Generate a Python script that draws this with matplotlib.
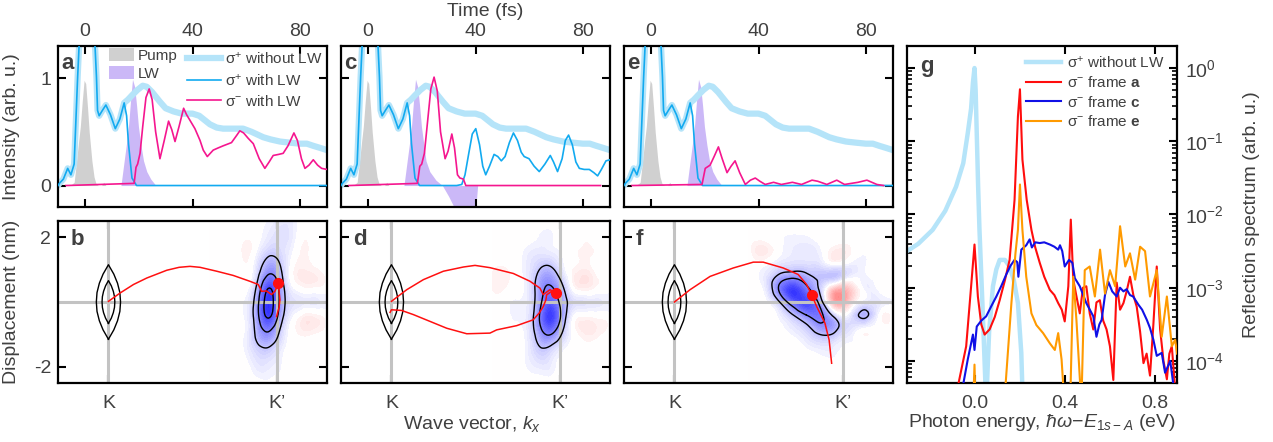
import numpy as np
import matplotlib.pyplot as plt
import matplotlib.tri as mtri
from matplotlib.patches import Patch
from matplotlib.lines import Line2D
from matplotlib.ticker import LogLocator, NullFormatter

plt.rcParams['font.family'] = ['Liberation Sans', 'DejaVu Sans']
plt.rcParams['mathtext.fontset'] = 'custom'
plt.rcParams['mathtext.rm'] = 'Liberation Sans'
plt.rcParams['mathtext.it'] = 'Liberation Sans:italic'
plt.rcParams['mathtext.bf'] = 'Liberation Sans:bold'
plt.rcParams['axes.unicode_minus'] = False
plt.rcParams['contour.negative_linestyle'] = 'solid'

TXT = '#404040'
C_FREE = '#b5e4f9'
C_SP = '#12aaf0'
C_SM = '#f5168f'
C_PUMP = '#d0d0d0'
C_LW = '#cbb8f7'
C_GRID = '#c3c3c3'

# ---------------- time traces (fs, arb. u.) ----------------
t_pump = [-10, -9, -8, -5, -4, -3.1, -2.3, -1.7, -1, -0.3, 0.3, 1, 1.6, 2.6, 3.4, 4.1, 5, 6.2, 7, 7.8, 9, 10]
i_pump = [0, 0.02, 0.0, 0.01, 0.03, 0.23, 0.42, 0.55, 0.78, 0.98, 0.95, 0.72, 0.5, 0.23, 0.08, 0.02, 0.0, 0.0, 0.03, 0.0, 0.0, 0]

t_lw = [10, 13.4, 14.6, 15.5, 16.2, 17, 17.7, 18.5, 19.2, 19.9, 20.8, 21.8, 23, 24.5, 26.4, 28]
i_lw = [0, 0.0, 0.23, 0.4, 0.55, 0.8, 0.99, 0.92, 0.75, 0.55, 0.38, 0.23, 0.13, 0.06, 0.0, 0]

# LW field for frame c carries a second, inverted lobe
t_lw_c = [10, 13.4, 14.6, 15.5, 16.2, 17, 17.7, 18.5, 19.2, 19.9, 20.8, 21.6, 23, 25.3, 27.7,
          30, 32, 35, 38, 39.5, 40.3, 40.8, 45]
i_lw_c = [0, 0.0, 0.23, 0.4, 0.55, 0.8, 0.99, 0.92, 0.75, 0.55, 0.38, 0.23, 0.13, 0.05, 0.0,
          -0.1, -0.2, -0.4, -0.45, -0.35, -0.15, 0.0, 0]

t_free = [-10, -9.5, -8, -6.4, -5.2, -4, -2.7, -2.2, -1, 0.5, 2, 3.8, 4.3, 4.7, 5.3, 6.5, 7.8, 9.5,
          11.3, 13, 14.6, 16, 17.5, 19.5, 21.5, 23, 25, 27.9, 30, 33, 36, 40, 42.5, 44.5, 46.5, 49,
          51.4, 55, 58.8, 62, 66.3, 69, 72.5, 76, 79.9, 82.5, 84.9, 87.5, 90]
i_free = [0, 0.02, 0.06, 0.16, 0.10, 0.20, 1.01, 1.28, 2.0, 2.3, 2.0, 1.28, 1.01, 0.70, 0.65, 0.70,
          0.75, 0.66, 0.53, 0.62, 0.77, 0.80, 0.84, 0.89, 0.93, 0.92, 0.87, 0.78, 0.72, 0.69, 0.67,
          0.67, 0.65, 0.61, 0.57, 0.54, 0.53, 0.53, 0.53, 0.50, 0.45, 0.43, 0.41, 0.40, 0.39, 0.39,
          0.37, 0.35, 0.33]

# sigma+ with LW, frames a and e
t_sp_ae = [-10, -9.5, -8, -6.4, -5.2, -4, -2.7, -2.2, -1, 0.5, 2, 3.8, 4.3, 4.7, 5.3, 6.5, 7.8, 9.5,
           11.3, 13, 14.6, 15.5, 16.2, 17.5, 19.2, 90]
i_sp_ae = [0, 0.02, 0.06, 0.16, 0.10, 0.20, 1.01, 1.28, 2.0, 2.3, 2.0, 1.28, 1.01, 0.70, 0.65, 0.70,
           0.75, 0.66, 0.53, 0.62, 0.77, 0.65, 0.39, 0.07, 0.0, 0.0]

# sigma+ with LW, frame c
t_sp_c = [-10, -9.5, -8, -6.4, -5.2, -4, -2.7, -2.2, -1, 0.5, 2, 3.8, 4.3, 4.7, 5.3, 6.5, 7.8, 9.5,
          11.3, 13, 14.6, 15.5, 16.2, 17.5, 19.2, 33, 34.9, 36.1, 37.5, 38.8, 40.1, 41.5, 42.7,
          43.8, 45.2, 46.9, 48.3, 49.6, 51, 52.6, 54.1, 55.6, 57, 58.1, 59.9, 61.8, 63.7, 65.8,
          67.8, 69, 70.5, 72.2, 73.4, 74.6, 76, 77.3, 78.6, 80.4, 82.3, 84, 85.4, 86.8, 88.5, 90]
i_sp_c = [0, 0.02, 0.06, 0.16, 0.10, 0.20, 1.01, 1.28, 2.0, 2.3, 2.0, 1.28, 1.01, 0.70, 0.65, 0.70,
          0.75, 0.66, 0.53, 0.62, 0.77, 0.65, 0.39, 0.07, 0.0, 0.0, 0.01, 0.10, 0.30, 0.48, 0.53,
          0.38, 0.18, 0.10, 0.18, 0.29, 0.27, 0.23, 0.27, 0.40, 0.49, 0.42, 0.31, 0.27, 0.25, 0.18,
          0.13, 0.20, 0.28, 0.22, 0.13, 0.25, 0.42, 0.47, 0.38, 0.22, 0.16, 0.15, 0.15, 0.12, 0.09,
          0.15, 0.23, 0.24]

# sigma- with LW
t_sm_a = [-7, 18.3, 19.0, 19.6, 20.5, 21.5, 22.7, 23.9, 25, 26.3, 27.9, 29.5, 31.1, 32.3, 33.5, 35,
          36.7, 37.8, 39, 40.9, 42.8, 44, 45.5, 47.7, 49.5, 51.4, 54.5, 56.5, 57.6, 59, 60.7, 62.6,
          64.8, 66.9, 68.5, 70, 72, 73.7, 75.5, 77.7, 79, 80.5, 81.8, 83.3, 84.9, 86.5, 88, 90]
i_sm_a = [0, 0.02, 0.17, 0.2, 0.3, 0.55, 0.82, 0.90, 0.8, 0.5, 0.25, 0.42, 0.60, 0.52, 0.41, 0.55,
          0.72, 0.66, 0.61, 0.53, 0.42, 0.33, 0.27, 0.33, 0.35, 0.37, 0.40, 0.47, 0.51, 0.49, 0.44,
          0.39, 0.25, 0.16, 0.22, 0.28, 0.29, 0.30, 0.37, 0.49, 0.42, 0.25, 0.16, 0.19, 0.24, 0.19,
          0.16, 0.15]

t_sm_c = [-7, 18.4, 19.3, 20, 21, 22.2, 23.4, 24.6, 25.8, 27, 28.7, 29.8, 31.2, 32.2, 33.3, 34.2,
          35.5, 36.4, 86.5]
i_sm_c = [0, 0.02, 0.18, 0.2, 0.3, 0.6, 0.9, 1.01, 0.88, 0.5, 0.25, 0.32, 0.48, 0.35, 0.10, 0.07,
          0.06, 0.0, 0.0]

t_sm_e = [-7, 19, 20.2, 22, 23.5, 25.1, 26.5, 28.3, 29.8, 31.3, 33, 35.1, 37, 38.8, 40.5, 42.5, 45.6,
          48.5, 52.6, 56, 59.9, 62, 65.4, 69.1, 72, 77, 80.3, 84, 86.5]
i_sm_e = [0, 0.01, 0.16, 0.19, 0.27, 0.36, 0.25, 0.12, 0.18, 0.23, 0.12, 0.01, 0.05, 0.07, 0.04,
          0.01, 0.03, 0.01, 0.03, 0.01, 0.05, 0.04, 0.01, 0.05, 0.01, 0.03, 0.05, 0.01, 0.0]

# ---------------- k-space frames ----------------
lens_y_out = [-1.15, -0.86, -0.58, -0.29, 0.0, 0.29, 0.58, 0.86, 1.15]
lens_w_out = [0.0, 0.032, 0.054, 0.068, 0.072, 0.068, 0.054, 0.032, 0.0]
lens_y_in = [-0.66, -0.5, -0.33, -0.165, 0.0, 0.165, 0.33, 0.5, 0.66]
lens_w_in = [0.0, 0.017, 0.029, 0.036, 0.038, 0.036, 0.029, 0.017, 0.0]

k_map = [0.60, 0.67, 0.74, 0.81, 0.88, 0.95, 1.02, 1.09, 1.16, 1.23, 1.30]
y_map = [2.5, 2.0, 1.5, 1.0, 0.5, 0.0, -0.5, -1.0, -1.5, -2.0, -2.5]
field_b = [
    [0, 0, 0, 0, 0, -0.05, -0.1, -0.1, 0, 0, 0],
    [0, 0, 0, 0.03, 0, -0.1, -0.15, -0.1, 0.03, 0, 0],
    [0, 0, 0, 0.05, -0.05, -0.25, -0.2, -0.05, 0.05, 0, 0],
    [0, 0, 0, 0.03, -0.15, -0.5, -0.35, 0, 0.08, 0.05, 0],
    [0, 0, 0, 0, -0.3, -0.85, -0.5, -0.05, 0.05, 0.05, 0],
    [0, 0, 0, -0.05, -0.45, -1.0, -0.55, -0.15, -0.1, -0.1, -0.08],
    [0, 0, 0, -0.05, -0.45, -0.9, -0.45, -0.05, 0.08, 0.08, 0],
    [0, 0, 0, -0.05, -0.35, -0.55, -0.25, 0, 0.05, 0.03, 0],
    [0, 0, 0.03, -0.05, -0.2, -0.25, -0.1, 0, 0, 0, 0],
    [0, 0, 0, 0, -0.1, -0.1, -0.05, 0, 0, 0, 0],
    [0, 0, 0, 0, 0, -0.03, 0, 0, 0, 0, 0],
]
field_d = [
    [0, 0, 0, 0, 0, 0, 0, 0, 0, 0, 0],
    [0, 0, 0, 0, -0.05, -0.05, 0, 0, 0.03, 0, 0],
    [0, 0, 0, -0.08, -0.12, -0.1, -0.03, 0.03, 0.05, 0.03, 0],
    [0.03, 0.05, 0, -0.1, -0.3, -0.35, -0.1, 0.05, 0.08, 0, 0],
    [0.05, 0.05, 0, -0.1, -0.45, -0.6, -0.3, 0.05, 0.1, 0.03, 0],
    [0, 0, -0.05, -0.1, -0.5, -0.8, -0.45, -0.15, -0.12, -0.1, -0.1],
    [0, 0, -0.05, -0.12, -0.6, -0.95, -0.45, 0, 0.05, 0.03, 0],
    [0, 0, 0, -0.1, -0.45, -0.6, -0.25, 0, 0.08, 0.05, 0],
    [0, 0, 0, -0.08, -0.25, -0.2, -0.05, 0, 0, 0, 0],
    [0, 0, 0, -0.05, -0.1, -0.08, 0, 0, 0, 0, 0],
    [0, 0, 0, 0, 0, 0, 0, 0, 0, 0, 0],
]
k_map_f = [0.44, 0.526, 0.612, 0.698, 0.784, 0.87, 0.956, 1.042, 1.128, 1.214, 1.30]
y_map_f = [2.4, 2.0, 1.6, 1.2, 0.8, 0.4, 0.0, -0.4, -0.8, -1.2, -1.6, -2.0, -2.4]
field_f = [
    [0, 0, 0, 0, 0, 0, 0, 0, 0, 0, 0],
    [0, 0, -0.03, -0.05, -0.05, 0, 0, 0, 0, 0, 0],
    [0, 0.1, 0, -0.08, -0.1, -0.05, 0.08, 0.05, -0.03, 0, 0],
    [0, 0, -0.1, -0.15, -0.15, -0.12, 0, -0.05, -0.05, 0, 0],
    [0, -0.08, -0.35, -0.5, -0.4, -0.3, -0.3, -0.1, -0.05, 0, 0],
    [0, -0.05, -0.55, -0.95, -0.7, -0.25, 0.3, 0.25, -0.05, -0.03, 0],
    [0, 0, -0.25, -0.75, -0.9, -0.45, 0.4, 0.2, -0.1, -0.1, -0.05],
    [0, 0, -0.05, -0.3, -0.6, -0.65, -0.2, -0.1, -0.38, -0.05, 0],
    [0, 0, 0, -0.1, -0.25, -0.5, -0.4, -0.15, -0.05, 0, 0],
    [0, 0, 0.03, 0, -0.1, -0.2, -0.15, -0.05, 0, 0, 0],
    [0, 0, 0, 0.03, 0, -0.05, -0.05, 0, 0, 0, 0],
    [0, 0, 0, 0, 0.03, 0, 0, 0, 0, 0, 0],
    [0, 0, 0, 0, 0, 0, 0, 0, 0, 0, 0],
]

# electron trajectories (k, displacement in nm) and current position
traj_b = [([0.0, 0.07, 0.149, 0.228, 0.347, 0.42, 0.485, 0.545, 0.644, 0.742, 0.841, 0.891, 0.911,
            0.94, 0.97, 0.99, 1.01, 1.02, 1.015, 1.0],
           [0.02, 0.28, 0.54, 0.74, 0.98, 1.07, 1.10, 1.07, 0.95, 0.82, 0.64, 0.54, 0.33, 0.34,
            0.23, 0.33, 0.55, 0.07, -0.16, -0.45])]
dot_b = (1.01, 0.6)
traj_d = [([0.0, 0.091, 0.19, 0.309, 0.428, 0.497, 0.586, 0.725, 0.824, 0.883, 0.903, 0.943, 0.978],
           [0.02, 0.38, 0.69, 0.95, 1.08, 1.13, 1.06, 0.88, 0.64, 0.43, 0.23, 0.38, 0.28]),
          ([-0.008, 0.0, 0.06, 0.131, 0.23, 0.329, 0.448, 0.586, 0.626, 0.745, 0.843, 0.879, 0.903,
            0.919, 0.923, 0.953, 0.978],
           [-0.32, -0.24, -0.26, -0.39, -0.60, -0.81, -0.98, -0.96, -0.86, -0.73, -0.55, -0.34,
            -0.14, 0.07, 0.22, 0.33, 0.28])]
dot_d = (0.978, 0.28)
traj_f = [([0.0, 0.093, 0.212, 0.35, 0.469, 0.528, 0.647, 0.736, 0.786, 0.816, 0.846, 0.895, 0.92,
            0.935],
           [0.0, 0.38, 0.79, 1.05, 1.23, 1.23, 1.05, 0.85, 0.54, 0.23, -0.14, -0.65, -1.17, -1.89])]
dot_f = (0.816, 0.23)

# ---------------- reflection spectra (log10 of arb. u.) ----------------
e_free = [-0.30, -0.25, -0.186, -0.13, -0.082, -0.05, -0.03, -0.015, -0.007, 0.0, 0.005, 0.01, 0.016,
          0.022, 0.035, 0.052, 0.065, 0.082, 0.097, 0.112, 0.135, 0.156, 0.175, 0.193, 0.208, 0.215,
          0.25, 0.9]
lg_free = [-2.5, -2.4, -2.21, -1.95, -1.62, -1.3, -0.89, -0.55, -0.2, 0.0, -0.3, -0.89, -1.6, -2.2,
           -3.2, -4.6, -3.6, -2.98, -2.75, -2.62, -2.62, -2.71, -2.9, -3.21, -3.89, -4.6, -6, -6]

e_a = [-0.30, -0.074, -0.037, -0.015, 0.0, 0.015, 0.03, 0.045, 0.067, 0.09, 0.112, 0.135, 0.156,
       0.178, 0.193, 0.202, 0.213, 0.232, 0.253, 0.27, 0.29, 0.31, 0.335, 0.355, 0.372, 0.388, 0.401,
       0.417, 0.428, 0.439, 0.452, 0.468, 0.482, 0.497, 0.512, 0.528, 0.542, 0.557, 0.572, 0.587,
       0.602, 0.617, 0.632, 0.647, 0.662, 0.676, 0.691, 0.706, 0.721, 0.736, 0.751, 0.765, 0.78,
       0.795, 0.81, 0.825, 0.84, 0.855, 0.866, 0.877, 0.892, 0.9]
lg_a = [-6, -4.35, -3.80, -2.98, -2.41, -3.12, -3.5, -3.64, -3.57, -3.4, -3.17, -2.9, -2.62, -1.80,
        -0.66, -0.29, -1.25, -1.80, -2.21, -2.45, -2.66, -2.85, -3.03, -3.1, -3.21, -3.3, -3.46,
        -2.98, -2.07, -2.89, -3.1, -3.35, -3.0, -2.98, -3.35, -3.57, -3.2, -3.17, -3.45, -3.57, -3.8,
        -4.26, -2.93, -3.3, -3.21, -3.05, -2.85, -3.1, -3.26, -3.6, -4.03, -3.9, -4.2, -3.5, -2.71,
        -3.57, -4.0, -4.25, -3.9, -3.80, -4.4, -4.4]

e_c = [-0.3, -0.052, -0.03, -0.007, 0.0, 0.01, 0.03, 0.052, 0.075, 0.097, 0.12, 0.141, 0.16, 0.178,
       0.19, 0.195, 0.208, 0.23, 0.245, 0.255, 0.27, 0.29, 0.31, 0.335, 0.355, 0.372, 0.38, 0.39,
       0.401, 0.42, 0.435, 0.446, 0.468, 0.497, 0.528, 0.542, 0.555, 0.565, 0.58, 0.595, 0.612,
       0.632, 0.647, 0.662, 0.676, 0.691, 0.705, 0.728, 0.745, 0.766, 0.78, 0.795, 0.81, 0.832,
       0.847, 0.87, 0.885, 0.9]
lg_c = [-6, -4.35, -3.98, -3.64, -3.85, -3.53, -3.45, -3.39, -3.25, -3.12, -2.97, -2.82, -2.7, -2.62,
        -2.65, -2.85, -2.48, -2.42, -2.34, -2.45, -2.38, -2.39, -2.38, -2.41, -2.44, -2.48, -2.42,
        -2.5, -2.71, -2.62, -2.66, -2.87, -2.98, -3.21, -3.39, -3.67, -3.5, -3.44, -3.1, -2.92,
        -3.05, -3.12, -3.0, -3.05, -3.02, -3.10, -3.12, -3.23, -3.3, -3.44, -3.55, -3.71, -3.93,
        -3.89, -4.16, -4.0, -4.35, -4.4]

e_e = [-0.3, -0.01, 0.0, 0.008, 0.13, 0.134, 0.164, 0.182, 0.193, 0.202, 0.213, 0.23, 0.253, 0.275,
       0.305, 0.335, 0.357, 0.372, 0.387, 0.40, 0.425, 0.439, 0.453, 0.475, 0.49, 0.512, 0.535,
       0.558, 0.58, 0.602, 0.625, 0.647, 0.67, 0.691, 0.714, 0.736, 0.758, 0.78, 0.81, 0.832, 0.855,
       0.877, 0.892, 0.9]
lg_e = [-6, -5, -4.05, -5, -5, -4.5, -3.21, -2.53, -2.21, -1.59, -2.21, -2.85, -3.35, -3.51, -3.62,
        -3.76, -3.85, -3.62, -3.98, -4.6, -4.6, -2.85, -3.44, -4.6, -2.76, -2.71, -3.12, -2.48,
        -3.08, -2.76, -2.98, -2.16, -2.71, -2.53, -2.89, -2.44, -2.5, -3.12, -2.76, -3.67, -3.12,
        -3.80, -3.71, -3.9]

# ---------------- figure ----------------
fig = plt.figure(figsize=(12.73, 4.42), dpi=100)
W, H = 1273.0, 442.0


def box(x0, y0, x1, y1):
    return [x0 / W, 1 - y1 / H, (x1 - x0) / W, (y1 - y0) / H]


lefts = [58, 341, 624]
ax_top = [fig.add_axes(box(x, 46, x + 269, 207)) for x in lefts]
ax_bot = [fig.add_axes(box(x, 221, x + 269, 383)) for x in lefts]
ax_g = fig.add_axes(box(907, 46, 1177, 383))

for ax in ax_top + ax_bot + [ax_g]:
    for sp in ax.spines.values():
        sp.set_linewidth(1.6)
    ax.tick_params(which='both', direction='in', width=1.5, labelsize=14, labelcolor=TXT)
    ax.tick_params(which='major', length=6)


def letter(ax, s, x, y):
    ax.text(x, y, s, transform=ax.transAxes, fontsize=16, fontweight='bold', color=TXT,
            va='baseline', ha='left', zorder=10)


# top row: time traces
frames = [
    (t_lw, i_lw, t_sp_ae, i_sp_ae, t_sm_a, i_sm_a, 'a'),
    (t_lw_c, i_lw_c, t_sp_c, i_sp_c, t_sm_c, i_sm_c, 'c'),
    (t_lw, i_lw, t_sp_ae, i_sp_ae, t_sm_e, i_sm_e, 'e'),
]
for n, (ax, fr) in enumerate(zip(ax_top, frames)):
    tl, il, ts, isp, tm, ism, lab = fr
    ax.fill_between(t_pump, 0, i_pump, color=C_PUMP, lw=0, zorder=1)
    ax.fill_between(tl, 0, il, color=C_LW, lw=0, zorder=1)
    ax.plot(t_free, i_free, color=C_FREE, lw=4.5, solid_capstyle='round', zorder=2)
    ax.plot(ts, isp, color=C_SP, lw=1.2, zorder=3)
    ax.plot(tm, ism, color=C_SM, lw=1.2, zorder=4)
    ax.set_xlim(-10, 90)
    ax.set_ylim(-0.2, 1.3)
    ax.set_xticks([0, 40, 80])
    ax.set_yticks([0, 1])
    ax.tick_params(axis='x', top=True, bottom=True, labeltop=True, labelbottom=False, pad=4)
    ax.tick_params(axis='y', left=True, right=True, labelleft=(n == 0), pad=5)
    letter(ax, lab, 0.013, 0.858)

ax = ax_top[0]
ax.set_ylabel('Intensity (arb. u.)', fontsize=14, color=TXT)
ax.yaxis.set_label_coords(-0.14, 0.5)
leg1 = ax.legend([Patch(facecolor=C_PUMP), Patch(facecolor=C_LW)], ['Pump', 'LW'],
                 loc='upper left', bbox_to_anchor=(0.185, 1.0), frameon=False, fontsize=11,
                 handlelength=1.6, handleheight=1.0, handletextpad=0.25, labelspacing=0.2,
                 borderpad=0.1, borderaxespad=0)
for tx in leg1.get_texts():
    tx.set_color(TXT)
ax.add_artist(leg1)
leg2 = ax.legend([Line2D([], [], color=C_FREE, lw=4.5), Line2D([], [], color=C_SP, lw=1.2),
                  Line2D([], [], color=C_SM, lw=1.2)],
                 ['σ$^{+}$ without LW', 'σ$^{+}$ with LW', 'σ$^{-}$ with LW'],
                 loc='upper right', bbox_to_anchor=(0.985, 0.97), frameon=False, fontsize=11,
                 handlelength=2.2, handletextpad=0.3, labelspacing=0.35, borderpad=0,
                 borderaxespad=0)
for tx in leg2.get_texts():
    tx.set_color(TXT)

fig.text(485 / W, 1 - 11 / H, 'Time (fs)', fontsize=14, color=TXT, ha='center', va='center')

# bottom row: k-space maps
maps = [
    (k_map, y_map, field_b, [-0.9, -0.6, -0.3], traj_b, dot_b, 'b'),
    (k_map, y_map, field_d, [-0.6, -0.3], traj_d, dot_d, 'd'),
    (k_map_f, y_map_f, field_f, [-0.6, -0.33], traj_f, dot_f, 'f'),
]
fill_levels = np.concatenate([np.linspace(-1.2, -0.04, 30), np.linspace(0.04, 1.2, 30)])
aspect = 5.2  # k-units to nm on screen

for n, (ax, mp) in enumerate(zip(ax_bot, maps)):
    kk, yy, field, lines, traj, dot, lab = mp
    K, Y = np.meshgrid(kk, yy)
    z = np.array(field, dtype=float).ravel()
    tri_s = mtri.Triangulation(K.ravel() * aspect, Y.ravel())
    ref_s, z_ref = mtri.UniformTriRefiner(tri_s).refine_field(z, subdiv=3)
    ref = mtri.Triangulation(ref_s.x / aspect, ref_s.y, ref_s.triangles)
    ax.tricontourf(ref, z_ref, levels=fill_levels, cmap='bwr', vmin=-1.25, vmax=1.25, zorder=1)
    ax.tricontour(ref, z_ref, levels=lines, colors='k', linewidths=1.0, linestyles='solid',
                  zorder=4)

    for xv in (0, 1):
        ax.axvline(xv, color=C_GRID, lw=2.2, zorder=2)
    ax.axhline(0, color=C_GRID, lw=2.2, zorder=2)

    ly_o = np.array(lens_y_out)
    lw_o = np.array(lens_w_out)
    ly_i = np.array(lens_y_in)
    lw_i = np.array(lens_w_in)
    ax.plot(np.concatenate([lw_o, -lw_o[::-1]]), np.concatenate([ly_o, ly_o[::-1]]),
            color='k', lw=1.0, zorder=4)
    ax.plot(np.concatenate([lw_i, -lw_i[::-1]]), np.concatenate([ly_i, ly_i[::-1]]),
            color='k', lw=1.0, zorder=4)

    for kx, dy in traj:
        ax.plot(kx, dy, color='#ff1010', lw=1.1, zorder=5)
    ax.plot(dot[0], dot[1], 'o', color='#ff1010', ms=7, zorder=6)

    ax.set_xlim(-0.3, 1.3)
    ax.set_ylim(-2.5, 2.5)
    ax.set_xticks([0, 1])
    ax.set_xticklabels(['K', 'K’'])
    ax.set_yticks([-2, 2])
    ax.set_yticklabels(['-2', '2'])
    ax.tick_params(axis='x', top=True, bottom=True, pad=9)
    ax.tick_params(axis='y', left=True, right=True, labelleft=(n == 0), pad=5)
    letter(ax, lab, 0.045, 0.852)

ax = ax_bot[0]
ax.set_ylabel('Displacement (nm)', fontsize=14, color=TXT)
ax.yaxis.set_label_coords(-0.14, 0.5)
fig.text(472 / W, 1 - 424 / H, 'Wave vector, $k_x$', fontsize=14, color=TXT,
         ha='center', va='center')

# spectra
ax = ax_g
ax.plot(e_free, 10 ** np.array(lg_free), color=C_FREE, lw=3.2, zorder=2)
ax.plot(e_a, 10 ** np.array(lg_a), color='#ff0d0d', lw=1.5, zorder=3)
ax.plot(e_c, 10 ** np.array(lg_c), color='#1010e6', lw=1.5, zorder=4)
ax.plot(e_e, 10 ** np.array(lg_e), color='#ff9a00', lw=1.5, zorder=5)
ax.set_yscale('log')
ax.set_xlim(-0.3, 0.9)
ax.set_ylim(5e-5, 2)
ax.set_xticks([0, 0.4, 0.8])
ax.set_xticklabels(['0.0', '0.4', '0.8'])
ax.yaxis.set_major_locator(LogLocator(base=10, numticks=12))
ax.yaxis.set_minor_locator(LogLocator(base=10, subs=np.arange(2, 10), numticks=12))
ax.yaxis.set_minor_formatter(NullFormatter())
ax.tick_params(axis='x', top=True, bottom=True, pad=9)
ax.tick_params(axis='y', which='both', left=True, right=True, labelleft=False, labelright=True,
               pad=6)
ax.tick_params(axis='y', which='minor', length=3.5, width=1.2)
ax.set_xlabel(r'Photon energy, $\hbar\omega$$-$$E_{1s-A}$ (eV)', fontsize=14, color=TXT)
ax.xaxis.set_label_coords(0.5, -0.085)
ax.yaxis.set_label_position('right')
ax.set_ylabel('Reflection spectrum (arb. u.)', fontsize=14, color=TXT)
ax.yaxis.set_label_coords(1.245, 0.5)
letter(ax, 'g', 0.05, 0.924)
leg3 = ax.legend([Line2D([], [], color=C_FREE, lw=3.2), Line2D([], [], color='#ff0d0d', lw=1.5),
                  Line2D([], [], color='#1010e6', lw=1.5), Line2D([], [], color='#ff9a00', lw=1.5)],
                 ['σ$^{+}$ without LW', r'σ$^{-}$ frame $\mathbf{a}$', r'σ$^{-}$ frame $\mathbf{c}$',
                  r'σ$^{-}$ frame $\mathbf{e}$'],
                 loc='upper right', bbox_to_anchor=(0.955, 0.975), frameon=False, fontsize=11,
                 handlelength=2.3, handletextpad=0.4, labelspacing=0.3, borderpad=0,
                 borderaxespad=0)
for tx in leg3.get_texts():
    tx.set_color(TXT)

fig.savefig('out.png', dpi=100)
